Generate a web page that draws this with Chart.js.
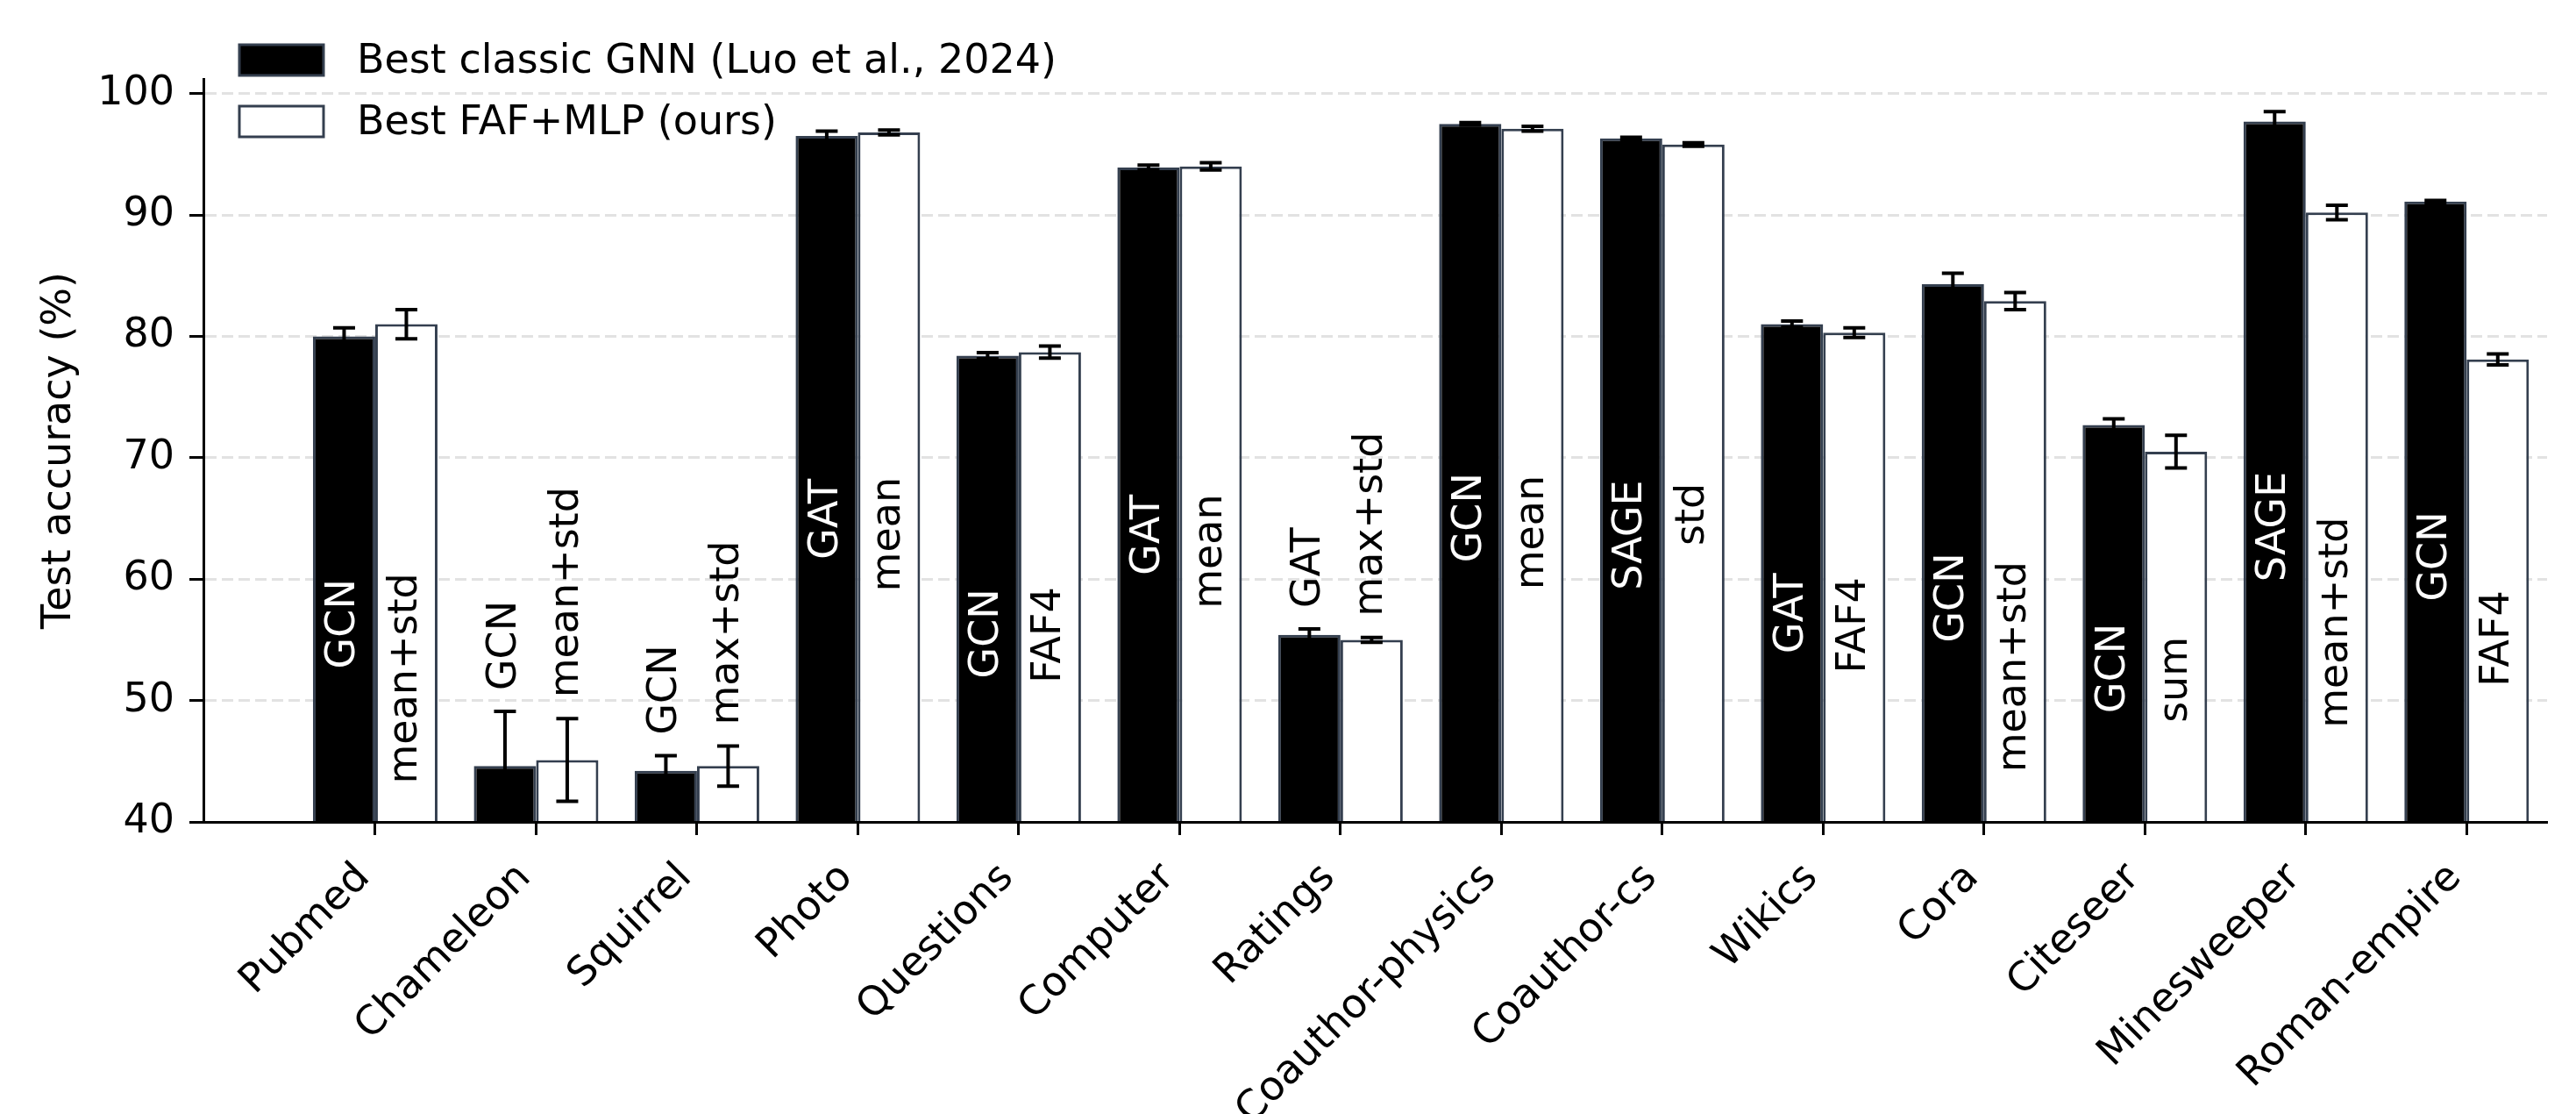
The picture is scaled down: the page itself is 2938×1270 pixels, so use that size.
<!DOCTYPE html>
<html>
<head>
<meta charset="utf-8">
<script src="https://cdn.jsdelivr.net/npm/chart.js@4.4.1/dist/chart.umd.min.js"></script>
<style>
  html, body { margin: 0; padding: 0; background: #fff; }
  canvas { display: block; }
</style>
</head>
<body>
<canvas id="accuracyChart" width="2938" height="1270"></canvas>
<script>
// Datasets on the x axis
const categories = ['Pubmed', 'Chameleon', 'Squirrel', 'Photo', 'Questions', 'Computer', 'Ratings',
    'Coauthor-physics', 'Coauthor-cs', 'Wikics', 'Cora', 'Citeseer', 'Minesweeper', 'Roman-empire'];

// Best classic GNN (Luo et al., 2024)
const gnnAccuracy = [80.0, 44.6, 44.2, 96.5, 78.4, 93.9, 55.4, 97.5, 96.3, 81.0, 84.3, 72.7, 97.7, 91.1];
const gnnStd = [0.7, 4.5, 1.25, 0.4, 0.25, 0.2, 0.5, 0.1, 0.1, 0.25, 0.9, 0.5, 0.8, 0.1];
const gnnModels = ['GCN', 'GCN', 'GCN', 'GAT', 'GCN', 'GAT', 'GAT', 'GCN', 'SAGE', 'GAT', 'GCN', 'GCN', 'SAGE', 'GCN'];

// Best FAF+MLP (ours)
const fafAccuracy = [81.0, 45.1, 44.6, 96.8, 78.7, 94.0, 55.0, 97.1, 95.8, 80.3, 82.9, 70.5, 90.2, 78.1];
const fafStd = [1.2, 3.4, 1.65, 0.2, 0.5, 0.3, 0.2, 0.2, 0.15, 0.4, 0.7, 1.35, 0.6, 0.45];
const fafModels = ['mean+std', 'mean+std', 'max+std', 'mean', 'FAF4', 'mean', 'max+std', 'mean', 'std',
    'FAF4', 'mean+std', 'sum', 'mean+std', 'FAF4'];

const yTicks = [40, 50, 60, 70, 80, 90, 100];

const FONT = 'DejaVu Sans';
const EDGE = '#343f4f';

// error bars, drawn from the bar elements and the y scale
const errorBarPlugin = {
    id: 'errorBars',
    afterDatasetsDraw(chart) {
        const ctx = chart.ctx;
        const y = chart.scales.y;
        chart.data.datasets.forEach((ds, d) => {
            const meta = chart.getDatasetMeta(d);
            meta.data.forEach((bar, i) => {
                const v = ds.data[i].y;
                const e = ds.errors[i];
                const top = y.getPixelForValue(v + e);
                const bot = y.getPixelForValue(v - e);
                ctx.save();
                ctx.strokeStyle = '#000';
                ctx.lineWidth = 4;
                ctx.beginPath();
                ctx.moveTo(bar.x, top);
                ctx.lineTo(bar.x, bot);
                ctx.moveTo(bar.x - 12.5, top);
                ctx.lineTo(bar.x + 12.5, top);
                ctx.moveTo(bar.x - 12.5, bot);
                ctx.lineTo(bar.x + 12.5, bot);
                ctx.stroke();
                ctx.restore();
            });
        });
    }
};

// model names written vertically in / above each bar
const barTextPlugin = {
    id: 'barText',
    afterDatasetsDraw(chart) {
        const ctx = chart.ctx;
        const y = chart.scales.y;
        chart.data.datasets.forEach((ds, d) => {
            const meta = chart.getDatasetMeta(d);
            meta.data.forEach((bar, i) => {
                const v = ds.data[i].y;
                const e = ds.errors[i];
                ctx.save();
                ctx.font = `46px "${FONT}"`;
                ctx.textBaseline = 'middle';
                let py;
                if (v < 60) {
                    // short bar: text sits above the error bar
                    py = y.getPixelForValue(v + e) - 24;
                    ctx.textAlign = 'left';
                    ctx.fillStyle = '#000';
                } else {
                    py = y.getPixelForValue((y.min + v) / 2);
                    ctx.textAlign = 'right';
                    ctx.fillStyle = ds.textColor;
                }
                ctx.translate(bar.x, py);
                ctx.rotate(-Math.PI / 2);
                ctx.fillText(ds.models[i], 0, 0);
                ctx.restore();
            });
        });
    }
};

// legend in the top left corner
const legendPlugin = {
    id: 'boxLegend',
    afterDraw(chart) {
        const ctx = chart.ctx;
        chart.data.datasets.forEach((ds, k) => {
            const top = 51 + k * 70;
            ctx.save();
            ctx.fillStyle = ds.backgroundColor;
            ctx.fillRect(273, top, 96, 35);
            ctx.strokeStyle = EDGE;
            ctx.lineWidth = 3;
            ctx.strokeRect(273, top, 96, 35);
            ctx.fillStyle = '#000';
            ctx.font = `46px "${FONT}"`;
            ctx.textBaseline = 'middle';
            ctx.textAlign = 'left';
            ctx.fillText(ds.label, 407, top + 20);
            ctx.restore();
        });
    }
};

new Chart(document.getElementById('accuracyChart'), {
    type: 'bar',
    data: {
        datasets: [
            {
                label: 'Best classic GNN (Luo et al., 2024)',
                data: gnnAccuracy.map((v, i) => ({ x: i, y: v })),
                errors: gnnStd,
                models: gnnModels,
                textColor: '#fff',
                backgroundColor: '#000',
                borderColor: EDGE,
                borderWidth: 3,
                borderSkipped: false
            },
            {
                label: 'Best FAF+MLP (ours)',
                data: fafAccuracy.map((v, i) => ({ x: i, y: v })),
                errors: fafStd,
                models: fafModels,
                textColor: '#000',
                backgroundColor: '#fff',
                borderColor: EDGE,
                borderWidth: 3,
                borderSkipped: false
            }
        ]
    },
    options: {
        responsive: false,
        animation: false,
        devicePixelRatio: 1,
        categoryPercentage: 0.774,
        barPercentage: 1.0,
        layout: { padding: { left: 0, right: 33, top: 90, bottom: 0 } },
        plugins: {
            legend: { display: false },
            tooltip: { enabled: false }
        },
        scales: {
            x: {
                type: 'linear',
                min: -1.068,
                max: 13.5,
                offset: false,
                afterBuildTicks: axis => {
                    axis.ticks = categories.map((c, i) => ({ value: i }));
                },
                afterFit: axis => { axis.height = 333; },
                ticks: {
                    autoSkip: false,
                    minRotation: 45,
                    maxRotation: 45,
                    padding: 22,
                    labelOffset: -13,
                    color: '#000',
                    font: { family: FONT, size: 46 },
                    callback: value => categories[value] ?? ''
                },
                grid: {
                    offset: false,
                    drawOnChartArea: false,
                    drawTicks: true,
                    tickLength: 15,
                    tickWidth: 3,
                    tickColor: '#000'
                },
                border: { display: true, color: '#000', width: 3, z: 1 }
            },
            y: {
                min: 40,
                max: 101.2,
                afterBuildTicks: axis => {
                    axis.ticks = yTicks.map(v => ({ value: v }));
                },
                afterFit: axis => { axis.width = 232; },
                ticks: {
                    padding: 17,
                    color: '#000',
                    font: { family: FONT, size: 46 }
                },
                grid: {
                    color: '#e2e2e2',
                    lineWidth: 3,
                    tickLength: 16,
                    tickWidth: 3,
                    tickColor: '#000'
                },
                border: { display: true, color: '#000', width: 3, dash: [13, 6], z: 1 },
                title: {
                    display: true,
                    text: 'Test accuracy (%)',
                    color: '#000',
                    font: { family: FONT, size: 46 },
                    padding: { top: 40, bottom: 0 }
                }
            }
        }
    },
    plugins: [errorBarPlugin, barTextPlugin, legendPlugin]
});
</script>
</body>
</html>
